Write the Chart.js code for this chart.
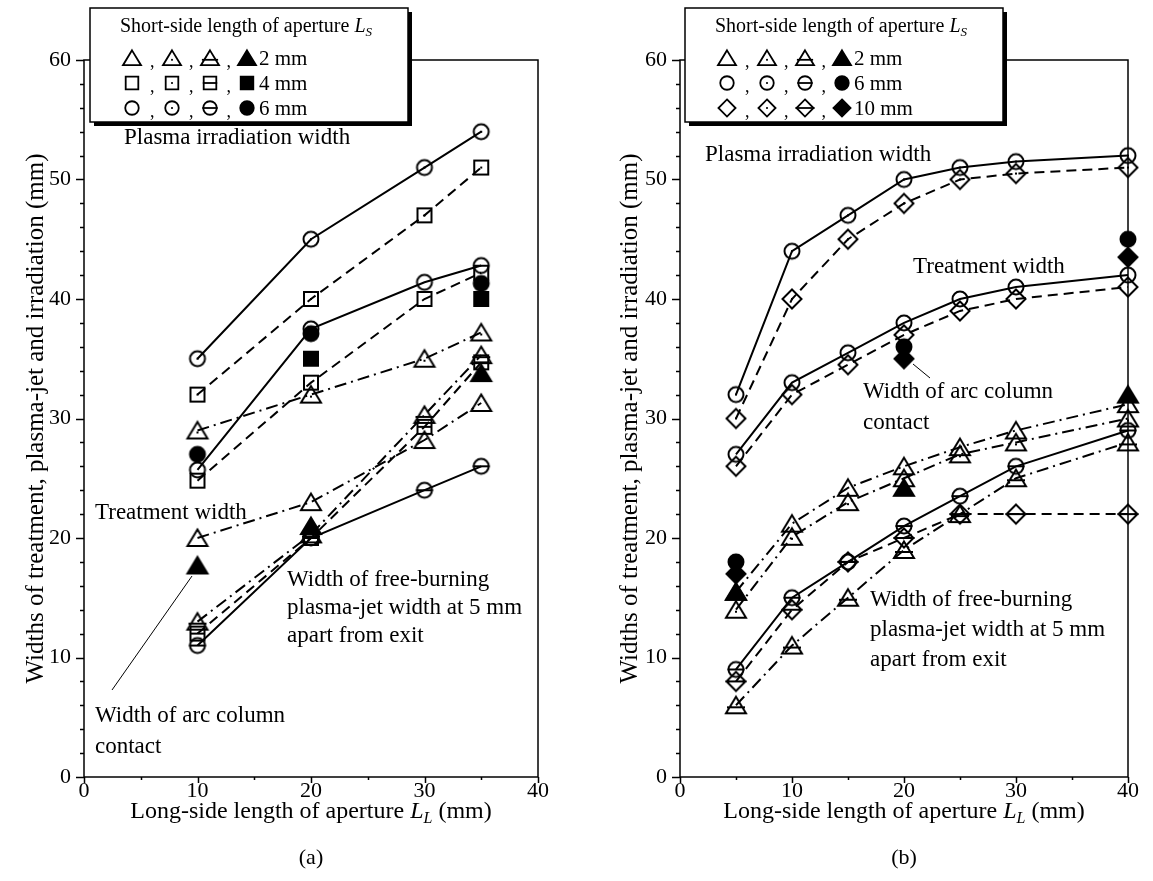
<!DOCTYPE html>
<html>
<head>
<meta charset="utf-8">
<script src="https://cdn.jsdelivr.net/npm/chart.js@4.4.1/dist/chart.umd.min.js"></script>
<style>
  html, body { margin: 0; padding: 0; background: #fff; }
  #wrap { position: relative; width: 1153px; height: 881px; }
  .panel { position: absolute; top: 0; height: 881px; }
  #panelA { left: 0; width: 576px; }
  #panelB { left: 576px; width: 577px; }
</style>
</head>
<body>
<div id="wrap">
  <div class="panel" id="panelA"><canvas id="chartA"></canvas></div>
  <div class="panel" id="panelB"><canvas id="chartB"></canvas></div>
</div>
<script>
const FONT = '"Liberation Serif", "Times New Roman", serif';

// ---- panel (a): long-side length 10..35 mm ----
const xA = [10, 20, 30, 35];
// plasma irradiation width (dotted markers)
const irrA2 = [29, 32, 35, 37.2];
const irrA4 = [32, 40, 47, 51];
const irrA6 = [35, 45, 51, 54];
// treatment width (open markers)
const trtA2 = [20, 23, 28.2, 31.3];
const trtA4 = [24.8, 33, 40, 42.2];
const trtA6 = [25.7, 37.5, 41.4, 42.8];
// free-burning plasma-jet width (barred markers)
const jetA2 = [13, 20.3, 30.3, 35.3];
const jetA4 = [12, 20, 29.3, 34.7];
const jetA6 = [11, 20, 24, 26];
// arc column contact (filled markers)
const arcA2x = [10, 20, 35];
const arcA2 = [17.7, 21, 33.8];
const arcA4x = [20, 35];
const arcA4 = [35, 40];
const arcA6x = [10, 20, 35];
const arcA6 = [27, 37.1, 41.3];

// ---- panel (b): long-side length 5..40 mm ----
const xB = [5, 10, 15, 20, 25, 30, 40];
const irrB2 = [14, 20.1, 23, 25, 27, 28, 30];
const irrB6 = [32, 44, 47, 50, 51, 51.5, 52];
const irrB10 = [30, 40, 45, 48, 50, 50.5, 51];
const trtB2 = [15.5, 21.2, 24.2, 26, 27.6, 29, 31.2];
const trtB6 = [27, 33, 35.5, 38, 40, 41, 42];
const trtB10 = [26, 32, 34.5, 37, 39, 40, 41];
const jetB2 = [6, 11, 15, 19, 22, 25, 28];
const jetB6 = [9, 15, 18, 21, 23.5, 26, 29];
const jetB10 = [8, 14, 18, 20, 22, 22, 22];
const arcBx = [5, 20, 40];
const arcB2 = [15.5, 24.2, 32];
const arcB6 = [18, 36, 45];
const arcB10 = [17, 35, 43.5];

const xTicks = [0, 10, 20, 30, 40];
const yTicks = [0, 10, 20, 30, 40, 50, 60];
const xMinorStep = 5;
const yMinorStep = 2;

const SOLID = [];
const DASH = [10, 6];
const DASHDOT = [12, 5, 2, 5];

// marker images: shape = circle/square/triangle/diamond, kind = open/dot/bar/filled
function marker(shape, kind, s) {
    s = s || 1;
    const c = document.createElement('canvas');
    c.width = 28; c.height = 28;
    const g = c.getContext('2d');
    g.translate(14, 14);
    g.scale(s, s);
    g.lineWidth = 2;
    g.strokeStyle = '#000';
    g.fillStyle = '#000';
    g.beginPath();
    let bar = 8;
    if (shape === 'circle') {
        g.arc(0, 0, 7.5, 0, Math.PI * 2);
        bar = 7.5;
    } else if (shape === 'square') {
        g.rect(-7, -7, 14, 14);
        bar = 7;
    } else if (shape === 'triangle') {
        g.moveTo(0, -8.5); g.lineTo(10, 8); g.lineTo(-10, 8); g.closePath();
        bar = 8;
    } else if (shape === 'diamond') {
        g.moveTo(0, -9.5); g.lineTo(9.5, 0); g.lineTo(0, 9.5); g.lineTo(-9.5, 0); g.closePath();
        bar = 9.5;
    }
    if (kind === 'filled') g.fill();
    g.stroke();
    if (kind === 'dot') {
        const dy = shape === 'triangle' ? 2 : 0;
        g.fillRect(-1, dy - 1, 2, 2);
    }
    if (kind === 'bar') {
        const by = shape === 'triangle' ? 2 : 0;
        g.beginPath();
        g.moveTo(-bar - 1, by); g.lineTo(bar + 1, by);
        g.stroke();
    }
    return c;
}

function series(xs, ys, shape, kind, dash) {
    return {
        data: xs.map((x, i) => ({ x: x, y: ys[i] })),
        showLine: dash !== null,
        borderColor: '#000',
        backgroundColor: '#000',
        borderWidth: 2,
        borderDash: dash || [],
        pointStyle: marker(shape, kind),
        pointRadius: 9,
        pointHoverRadius: 9,
        clip: false,
        tension: 0
    };
}

function richText(ctx, parts, x, y, align) {
    let w = 0;
    parts.forEach(p => {
        ctx.font = (p.it ? 'italic ' : '') + p.size + 'px ' + FONT;
        p.w = ctx.measureText(p.t).width;
        w += p.w;
    });
    let cx = align === 'center' ? x - w / 2 : x;
    parts.forEach(p => {
        ctx.font = (p.it ? 'italic ' : '') + p.size + 'px ' + FONT;
        ctx.fillText(p.t, cx, y + (p.dy || 0));
        cx += p.w;
    });
}

function axisTitleParts(sub) {
    return [
        { t: 'Long-side length of aperture ', size: 24 },
        { t: 'L', size: 24, it: true },
        { t: sub, size: 16, it: true, dy: 7 },
        { t: ' (mm)', size: 24 }
    ];
}

const Y_TITLE = 'Widths of treatment, plasma-jet and irradiation (mm)';

function decor(cfg) {
    return {
        id: 'decor',
        beforeDatasetsDraw(chart) {
            const ctx = chart.ctx, a = chart.chartArea;
            const sx = chart.scales.x, sy = chart.scales.y;
            ctx.save();
            ctx.strokeStyle = '#000';
            ctx.lineWidth = 1.5;
            ctx.strokeRect(a.left, a.top, a.right - a.left, a.bottom - a.top);
            ctx.beginPath();
            for (let v = 0; v <= 60; v += yMinorStep) {
                const p = Math.round(sy.getPixelForValue(v)) + 0.5;
                const len = v % 10 === 0 ? 8 : 4;
                ctx.moveTo(a.left - len, p); ctx.lineTo(a.left, p);
            }
            for (let v = 0; v <= 40; v += xMinorStep) {
                const p = Math.round(sx.getPixelForValue(v)) + 0.5;
                const len = v % 10 === 0 ? 6 : 3;
                ctx.moveTo(p, a.bottom); ctx.lineTo(p, a.bottom + len);
            }
            ctx.stroke();
            ctx.restore();
        },
        afterDraw(chart) {
            const ctx = chart.ctx, a = chart.chartArea;
            const off = cfg.offset;
            ctx.save();
            ctx.fillStyle = '#000';
            ctx.strokeStyle = '#000';
            ctx.textBaseline = 'middle';

            // axis titles
            richText(ctx, axisTitleParts('L'), (a.left + a.right) / 2, 812, 'center');
            ctx.font = '22px ' + FONT;
            ctx.textAlign = 'center';
            ctx.fillText(cfg.tag, (a.left + a.right) / 2, 858);
            ctx.textAlign = 'left';
            ctx.save();
            ctx.translate(cfg.yTitleX - off, (a.top + a.bottom) / 2);
            ctx.rotate(-Math.PI / 2);
            ctx.font = '25px ' + FONT;
            ctx.textAlign = 'center';
            ctx.fillText(Y_TITLE, 0, 0);
            ctx.restore();

            // annotations
            ctx.font = '23px ' + FONT;
            cfg.notes.forEach(n => ctx.fillText(n[0], n[1] - off, n[2]));
            ctx.lineWidth = 1;
            ctx.beginPath();
            ctx.moveTo(cfg.pointer[0] - off, cfg.pointer[1]);
            ctx.lineTo(cfg.pointer[2] - off, cfg.pointer[3]);
            ctx.stroke();

            // legend box with shadow
            const bx = cfg.box[0] - off, by = cfg.box[1], bw = cfg.box[2], bh = cfg.box[3];
            ctx.fillStyle = '#000';
            ctx.fillRect(bx + 4, by + 4, bw, bh);
            ctx.fillStyle = '#fff';
            ctx.fillRect(bx, by, bw, bh);
            ctx.lineWidth = 1.5;
            ctx.strokeRect(bx, by, bw, bh);
            ctx.fillStyle = '#000';
            richText(ctx, [
                { t: 'Short-side length of aperture ', size: 20 },
                { t: 'L', size: 20, it: true },
                { t: 'S', size: 13, it: true, dy: 6 }
            ], bx + 30, by + 19, 'left');
            cfg.rows.forEach((r, i) => {
                const ry = by + 50 + i * 25;
                ['open', 'dot', 'bar', 'filled'].forEach((k, j) => {
                    const img = marker(r.shape, k, 0.9);
                    ctx.drawImage(img, bx + cfg.mx[j] - 14, ry - 14);
                });
                ctx.font = '18px ' + FONT;
                [0, 1, 2].forEach(j => ctx.fillText(',', bx + (cfg.mx[j] + cfg.mx[j + 1]) / 2 - 2, ry + 4));
                ctx.font = '21px ' + FONT;
                ctx.fillText(r.label, bx + cfg.mx[3] + 12, ry + 1);
            });
            ctx.restore();
        }
    };
}

function options(pad, yWidth) {
    return {
        responsive: true,
        maintainAspectRatio: false,
        animation: false,
        events: [],
        layout: { padding: pad },
        plugins: { legend: { display: false }, tooltip: { enabled: false } },
        scales: {
            x: {
                type: 'linear', min: 0, max: 40,
                afterBuildTicks: s => { s.ticks = xTicks.map(v => ({ value: v })); },
                afterFit: s => { s.height = 34; },
                grid: { display: false, drawTicks: false },
                border: { display: false },
                ticks: { color: '#000', font: { family: FONT, size: 22 }, padding: 1, maxRotation: 0 }
            },
            y: {
                type: 'linear', min: 0, max: 60,
                afterBuildTicks: s => { s.ticks = yTicks.map(v => ({ value: v })); },
                afterFit: s => { s.width = yWidth; },
                grid: { display: false, drawTicks: false },
                border: { display: false },
                ticks: { color: '#000', font: { family: FONT, size: 22 }, padding: 13 }
            }
        }
    };
}

const dsA = [
    series(arcA2x, arcA2, 'triangle', 'filled', null),
    series(arcA4x, arcA4, 'square', 'filled', null),
    series(arcA6x, arcA6, 'circle', 'filled', null),
    series(xA, irrA2, 'triangle', 'dot', DASHDOT),
    series(xA, irrA4, 'square', 'dot', DASH),
    series(xA, irrA6, 'circle', 'dot', SOLID),
    series(xA, trtA2, 'triangle', 'open', DASHDOT),
    series(xA, trtA4, 'square', 'open', DASH),
    series(xA, trtA6, 'circle', 'open', SOLID),
    series(xA, jetA2, 'triangle', 'bar', DASHDOT),
    series(xA, jetA4, 'square', 'bar', DASH),
    series(xA, jetA6, 'circle', 'bar', SOLID)
];

const dsB = [
    series(arcBx, arcB6, 'circle', 'filled', null),
    series(arcBx, arcB10, 'diamond', 'filled', null),
    series(arcBx, arcB2, 'triangle', 'filled', null),
    series(xB, irrB2, 'triangle', 'dot', DASHDOT),
    series(xB, irrB6, 'circle', 'dot', SOLID),
    series(xB, irrB10, 'diamond', 'dot', DASH),
    series(xB, trtB2, 'triangle', 'open', DASHDOT),
    series(xB, trtB6, 'circle', 'open', SOLID),
    series(xB, trtB10, 'diamond', 'open', DASH),
    series(xB, jetB2, 'triangle', 'bar', DASHDOT),
    series(xB, jetB6, 'circle', 'bar', SOLID),
    series(xB, jetB10, 'diamond', 'bar', DASH)
];

const cfgA = {
    offset: 0, tag: '(a)', yTitleX: 36,
    box: [90, 8, 318, 114],
    mx: [42, 82, 120, 157],
    rows: [
        { shape: 'triangle', label: '2 mm' },
        { shape: 'square', label: '4 mm' },
        { shape: 'circle', label: '6 mm' }
    ],
    notes: [
        ['Plasma irradiation width', 124, 138],
        ['Treatment width', 95, 513],
        ['Width of free-burning', 287, 580],
        ['plasma-jet width at 5 mm', 287, 608],
        ['apart from exit', 287, 636],
        ['Width of arc column', 95, 716],
        ['contact', 95, 747]
    ],
    pointer: [192, 576, 112, 690]
};

const cfgB = {
    offset: 576, tag: '(b)', yTitleX: 630,
    box: [685, 8, 318, 114],
    mx: [42, 82, 120, 157],
    rows: [
        { shape: 'triangle', label: '2 mm' },
        { shape: 'circle', label: '6 mm' },
        { shape: 'diamond', label: '10 mm' }
    ],
    notes: [
        ['Plasma irradiation width', 705, 155],
        ['Treatment width', 913, 267],
        ['Width of arc column', 863, 392],
        ['contact', 863, 423],
        ['Width of free-burning', 870, 600],
        ['plasma-jet width at 5 mm', 870, 630],
        ['apart from exit', 870, 660]
    ],
    pointer: [913, 364, 930, 378]
};

new Chart(document.getElementById('chartA'), {
    type: 'scatter',
    data: { datasets: dsA },
    options: options({ left: 0, top: 60, right: 38, bottom: 70 }, 84),
    plugins: [decor(cfgA)]
});

new Chart(document.getElementById('chartB'), {
    type: 'scatter',
    data: { datasets: dsB },
    options: options({ left: 0, top: 60, right: 25, bottom: 70 }, 104),
    plugins: [decor(cfgB)]
});
</script>
</body>
</html>
